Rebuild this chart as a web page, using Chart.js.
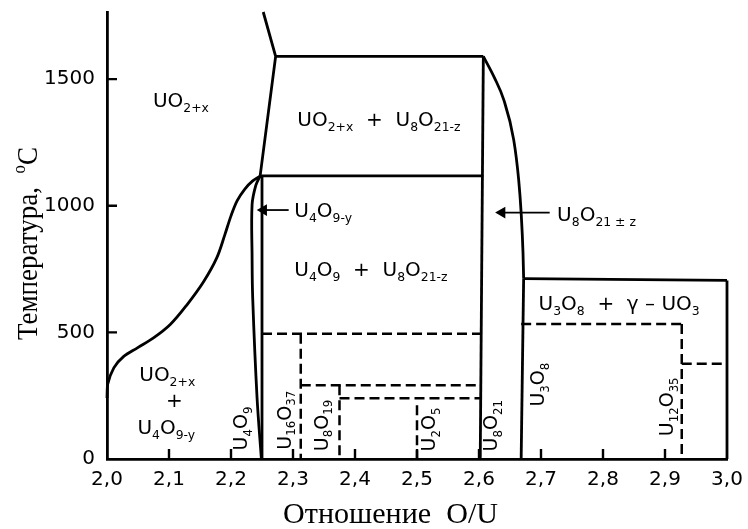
<!DOCTYPE html>
<html>
<head>
<meta charset="utf-8">
<script src="https://cdn.jsdelivr.net/npm/chart.js@4.4.1/dist/chart.umd.min.js"></script>
<style>
  html, body { margin: 0; padding: 0; background: #fff; }
  canvas { display: block; }
</style>
</head>
<body>
<canvas id="diagrama" width="748" height="529"></canvas>
<script>
// ---------------- datos (O/U , °C) ----------------
const xTicks = [2.0, 2.1, 2.2, 2.3, 2.4, 2.5, 2.6, 2.7, 2.8, 2.9, 3.0];
const xTickLabels = ['2,0', '2,1', '2,2', '2,3', '2,4', '2,5', '2,6', '2,7', '2,8', '2,9', '3,0'];
const yTicks = [0, 500, 1000, 1500];
const yTickLabels = ['0', '500', '1000', '1500'];

// lineas continuas
const limiteUO2 = [[2.252, 1765], [2.272, 1590], [2.247, 1118]];
const peritectica = [[2.272, 1590], [2.607, 1590]];
const curvaU8O21 = [[2.607, 1590], [2.625, 1505], [2.640, 1418], [2.656, 1260], [2.664, 1102], [2.668, 971], [2.671, 813], [2.672, 712]];
const eutectoide = [[2.247, 1118], [2.607, 1118]];
const solvusUO2 = [[2.0, 241], [2.001, 294], [2.011, 360], [2.027, 405], [2.049, 439], [2.075, 478], [2.102, 531], [2.129, 609], [2.156, 701], [2.177, 794], [2.190, 885], [2.200, 960], [2.210, 1020], [2.222, 1065], [2.235, 1098], [2.248, 1118]];
const u4o9Izq = [[2.247, 1118], [2.240, 1080], [2.234, 1004], [2.234, 800], [2.235, 636], [2.242, 243], [2.249, 0]];
const u4o9Der = [[2.25, 1118], [2.25, 0]];
const verticalU8O21 = [[2.607, 1590], [2.602, 0]];
const verticalU3O8 = [[2.672, 712], [2.668, 0]];
const techoU3O8 = [[2.672, 712], [3.0, 705]];
const verticalUO3 = [[3.0, 705], [3.0, 0]];

// lineas de trazos
const trazo495 = [[2.25, 495], [2.603, 495]];
const vertU16O37 = [[2.3125, 495], [2.3125, 0]];
const trazo291 = [[2.3125, 291], [2.603, 291]];
const vertU8O19 = [[2.375, 291], [2.375, 0]];
const trazo240 = [[2.375, 240], [2.603, 240]];
const vertU2O5 = [[2.5, 212], [2.5, 0]];
const trazo533 = [[2.668, 533], [2.927, 533]];
const vertU12O35 = [[2.927, 533], [2.927, 0]];
const trazo376 = [[2.927, 376], [3.0, 376]];

// flechas (la punta es el primer punto)
const flechaU4O9 = [[2.2525, 983], [2.293, 983]];
const flechaU8O21 = [[2.637, 973], [2.714, 973]];

const solidas = [limiteUO2, peritectica, curvaU8O21, eutectoide, solvusUO2, u4o9Izq, u4o9Der,
                 verticalU8O21, verticalU3O8, techoU3O8, verticalUO3];
const monotonas = [curvaU8O21];
const suaves = [u4o9Izq, solvusUO2];
const punteadas = [trazo495, vertU16O37, trazo291, vertU8O19, trazo240, vertU2O5, trazo533, vertU12O35, trazo376];
const flechas = [flechaU4O9, flechaU8O21];

// textos de fases: _ = subindice, ^ = superindice
const etiquetas = [
  { txt: 'UO_{2+x}', x: 2.074, y: 1390 },
  { txt: 'UO_{2+x}  +  U_8O_{21-z}', x: 2.307, y: 1315 },
  { txt: 'U_4O_{9-y}', x: 2.302, y: 957 },
  { txt: 'U_4O_9  +  U_8O_{21-z}', x: 2.302, y: 721 },
  { txt: 'U_8O_{21 ± z}', x: 2.726, y: 938 },
  { txt: 'U_3O_8  +  γ – UO_3', x: 2.696, y: 590 },
  { txt: 'UO_{2+x}', x: 2.052, y: 307 },
  { txt: '+', x: 2.095, y: 206 },
  { txt: 'U_4O_{9-y}', x: 2.049, y: 97 }
];
const etiquetasVert = [
  { txt: 'U_4O_9', x: 2.2266, y: 34 },
  { txt: 'U_{16}O_{37}', x: 2.2963, y: 37 },
  { txt: 'U_8O_{19}', x: 2.3559, y: 31 },
  { txt: 'U_2O_5', x: 2.5298, y: 30 },
  { txt: 'U_8O_{21}', x: 2.6296, y: 30 },
  { txt: 'U_3O_8', x: 2.7053, y: 207 },
  { txt: 'U_{12}O_{35}', x: 2.913, y: 90 }
];
const tituloX = 'Отношение  O/U';
const tituloY = 'Температура,  ^oC';

// ---------------- utilidades de texto ----------------
function partes(txt) {
  let out = [], buf = '', i = 0;
  while (i < txt.length) {
    let c = txt[i];
    if (c === '_' || c === '^') {
      if (buf) { out.push({ t: buf, s: 0 }); buf = ''; }
      let tipo = c === '_' ? 1 : 2;
      i++;
      let t;
      if (txt[i] === '{') { let j = txt.indexOf('}', i); t = txt.slice(i + 1, j); i = j + 1; }
      else { t = txt[i]; i++; }
      out.push({ t: t, s: tipo });
    } else { buf += c; i++; }
  }
  if (buf) out.push({ t: buf, s: 0 });
  return out;
}

function formula(ctx, txt, size, familia, soloMedir) {
  let x = 0;
  partes(txt).forEach(p => {
    let fs = p.s ? size * 0.62 : size;
    ctx.font = fs + 'px ' + familia;
    let dy = p.s === 1 ? size * 0.25 : (p.s === 2 ? -size * 0.42 : 0);
    if (!soloMedir) ctx.fillText(p.t, x, dy);
    x += ctx.measureText(p.t).width;
  });
  return x;
}

function textoAjustado(ctx, txt, size, familia, ancho) {
  let w = formula(ctx, txt, size, familia, true);
  ctx.scale(ancho / w, 1);
  formula(ctx, txt, size, familia, false);
}

const plugTextos = {
  id: 'textos',
  afterDraw(chart) {
    const ctx = chart.ctx, xs = chart.scales.x, ys = chart.scales.y, area = chart.chartArea;
    ctx.save();
    ctx.fillStyle = '#000';
    ctx.strokeStyle = '#000';
    ctx.textBaseline = 'alphabetic';
    ctx.textAlign = 'left';

    // marcas de las escalas hacia adentro
    ctx.lineWidth = 2.4;
    ctx.beginPath();
    xs.ticks.forEach((t, i) => {
      if (i === 0 || i === xs.ticks.length - 1) return;
      let px = xs.getPixelForValue(t.value);
      ctx.moveTo(px, area.bottom);
      ctx.lineTo(px, area.bottom - 10);
    });
    ys.ticks.forEach((t, i) => {
      if (i === 0) return;
      let py = ys.getPixelForValue(t.value);
      ctx.moveTo(area.left, py);
      ctx.lineTo(area.left + 10, py);
    });
    ctx.stroke();

    const fam = '"DejaVu Sans", sans-serif';
    etiquetas.forEach(e => {
      ctx.save();
      ctx.translate(xs.getPixelForValue(e.x), ys.getPixelForValue(e.y));
      formula(ctx, e.txt, 20, fam);
      ctx.restore();
    });
    etiquetasVert.forEach(e => {
      ctx.save();
      ctx.translate(xs.getPixelForValue(e.x), ys.getPixelForValue(e.y));
      ctx.rotate(-Math.PI / 2);
      formula(ctx, e.txt, 19, fam);
      ctx.restore();
    });

    // titulos de los ejes
    const serif = '"Liberation Serif", "DejaVu Serif", serif';
    ctx.save();
    ctx.translate(283, area.bottom + 64);
    textoAjustado(ctx, tituloX, 30, serif, 215);
    ctx.restore();

    ctx.save();
    ctx.translate(area.left - 70, 340);
    ctx.rotate(-Math.PI / 2);
    textoAjustado(ctx, tituloY, 29, serif, 193);
    ctx.restore();

    ctx.restore();
  }
};

// ---------------- datasets ----------------
const pares = arr => arr.map(p => ({ x: p[0], y: p[1] }));
let datasets = [];
solidas.forEach(a => {
  let ds = {
    data: pares(a), showLine: true, borderColor: '#000', borderWidth: 2.8,
    pointRadius: 0, tension: suaves.includes(a) ? 0.35 : 0, clip: false
  };
  if (monotonas.includes(a)) { ds.cubicInterpolationMode = 'monotone'; ds.tension = 0.4; }
  datasets.push(ds);
});
punteadas.forEach(a => {
  datasets.push({
    data: pares(a), showLine: true, borderColor: '#000', borderWidth: 2.5,
    borderDash: [10, 5], pointRadius: 0, clip: false
  });
});
flechas.forEach(a => {
  datasets.push({
    data: pares(a), showLine: true, borderColor: '#000', borderWidth: 1.8,
    pointRadius: [5, 0], pointStyle: 'triangle', rotation: -90,
    pointBackgroundColor: '#000', pointBorderColor: '#000', clip: false
  });
});

new Chart(document.getElementById('diagrama'), {
  type: 'scatter',
  data: { datasets: datasets },
  options: {
    responsive: false,
    animation: false,
    devicePixelRatio: 1,
    layout: { padding: { left: 0, right: 21, top: 12, bottom: 0 } },
    plugins: { legend: { display: false }, tooltip: { enabled: false } },
    scales: {
      x: {
        type: 'linear', min: 2.0, max: 3.0,
        afterBuildTicks: s => { s.ticks = xTicks.map(v => ({ value: v })); },
        afterFit: s => { s.height = 70; s.paddingLeft = 0; s.paddingRight = 0; },
        grid: { display: false, drawTicks: false },
        border: { display: true, color: '#000', width: 2.8 },
        ticks: {
          color: '#000', padding: 9,
          font: { family: '"DejaVu Sans", sans-serif', size: 20 },
          callback: (v, i) => xTickLabels[i]
        }
      },
      y: {
        type: 'linear', min: 0, max: 1765,
        afterBuildTicks: s => { s.ticks = yTicks.map(v => ({ value: v })); },
        afterFit: s => { s.width = 107; s.paddingTop = 0; s.paddingBottom = 0; },
        grid: { display: false, drawTicks: false },
        border: { display: true, color: '#000', width: 2.8 },
        ticks: {
          color: '#000', padding: 12,
          font: { family: '"DejaVu Sans", sans-serif', size: 20 },
          callback: (v, i) => yTickLabels[i]
        }
      }
    }
  },
  plugins: [plugTextos]
});
</script>
</body>
</html>
